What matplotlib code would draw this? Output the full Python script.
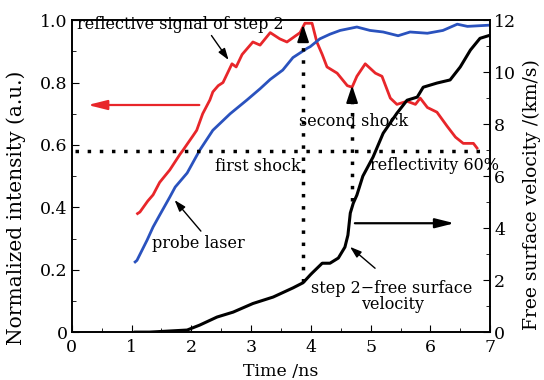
import matplotlib
matplotlib.use('Agg')
import matplotlib.pyplot as plt
import matplotlib as mpl
from matplotlib.ticker import MultipleLocator

mpl.rcParams['font.family'] = 'DejaVu Serif'
mpl.rcParams['font.size'] = 11.5
mpl.rcParams['axes.linewidth'] = 1.2

# reflective signal of step 2 (normalized)
t_red = [1.10, 1.14, 1.27, 1.36, 1.47, 1.64, 1.81, 1.86, 2.03, 2.09, 2.19, 2.31, 2.36, 2.45, 2.53,
         2.68, 2.75, 2.85, 3.03, 3.15, 3.32, 3.48, 3.60, 3.82, 3.90, 4.02, 4.10, 4.19, 4.27,
         4.44, 4.61, 4.69, 4.77, 4.91, 5.08, 5.19, 5.33, 5.44, 5.61, 5.75, 5.83, 5.95, 6.11,
         6.28, 6.42, 6.55, 6.72, 6.78]
i_red = [0.38, 0.385, 0.42, 0.44, 0.48, 0.52, 0.57, 0.583, 0.63, 0.647, 0.70, 0.744, 0.77, 0.79, 0.80,
         0.86, 0.85, 0.89, 0.93, 0.92, 0.96, 0.94, 0.93, 0.96, 0.99, 0.99, 0.93, 0.89, 0.85,
         0.83, 0.79, 0.785, 0.82, 0.86, 0.83, 0.82, 0.75, 0.73, 0.74, 0.73, 0.75, 0.72, 0.705,
         0.66, 0.625, 0.605, 0.605, 0.59]

# probe laser (normalized)
t_blue = [1.06, 1.09, 1.26, 1.36, 1.47, 1.64, 1.73, 1.93, 2.14, 2.36, 2.65, 2.93, 3.15, 3.32,
          3.53, 3.70, 3.94, 3.99, 4.15, 4.32, 4.49, 4.77, 4.99, 5.21, 5.46, 5.66, 5.95, 6.21,
          6.45, 6.62, 7.00]
i_blue = [0.225, 0.23, 0.295, 0.337, 0.375, 0.433, 0.465, 0.51, 0.583, 0.647, 0.70, 0.744, 0.78, 0.81,
          0.84, 0.88, 0.91, 0.915, 0.94, 0.955, 0.967, 0.978, 0.967, 0.962, 0.95, 0.962, 0.958, 0.967,
          0.987, 0.98, 0.984]

# step 2 free surface velocity (km/s)
t_vel = [1.06, 1.30, 1.93, 2.14, 2.43, 2.70, 3.03, 3.37, 3.70, 3.87, 3.99, 4.02, 4.19, 4.32,
         4.46, 4.57, 4.62, 4.66, 4.71, 4.77, 4.87, 5.04, 5.21, 5.44, 5.61, 5.78, 5.88, 6.11,
         6.33, 6.50, 6.67, 6.83, 6.97]
v_vel = [0.0, 0.0, 0.08, 0.27, 0.58, 0.77, 1.10, 1.35, 1.70, 1.90, 2.20, 2.27, 2.65, 2.65,
         2.85, 3.27, 3.73, 4.58, 4.96, 5.27, 6.0, 6.73, 7.65, 8.42, 8.92, 9.04, 9.42, 9.58,
         9.70, 10.2, 10.85, 11.3, 11.4]

fig = plt.figure(figsize=(5.44, 3.8), dpi=100)
ax = fig.add_axes([0.132, 0.126, 0.769, 0.821])
ax2 = ax.twinx()

ax.plot(t_red, i_red, color='#e8262a', lw=2.0)
ax.plot(t_blue, i_blue, color='#2a52be', lw=2.0)
ax2.plot(t_vel, v_vel, color='k', lw=2.2)

# dotted guide lines
dots = (0, (1, 2.5))
ax.plot([0.05, 6.85], [0.58, 0.58], color='k', lw=2.5, ls=dots)
ax.plot([3.87, 3.87], [0.16, 0.93], color='k', lw=2.5, ls=dots)
ax.plot([4.69, 4.69], [0.42, 0.76], color='k', lw=2.5, ls=dots)
head = dict(arrowstyle='-|>,head_width=0.3,head_length=0.9', color='k', lw=1.5)
ax.annotate('', xy=(3.87, 0.995), xytext=(3.87, 0.93), arrowprops=head)
ax.annotate('', xy=(4.69, 0.80), xytext=(4.69, 0.75), arrowprops=head)

# axis arrows
ax.annotate('', xy=(0.22, 0.728), xytext=(2.18, 0.728),
            arrowprops=dict(arrowstyle='-|>,head_width=0.25,head_length=1.0', color='#e8262a', lw=1.6))
ax.annotate('', xy=(6.45, 0.349), xytext=(4.69, 0.349),
            arrowprops=dict(arrowstyle='-|>,head_width=0.25,head_length=1.0', color='k', lw=1.6))

# labels with pointers
thin = dict(arrowstyle='-|>,head_width=0.2,head_length=0.6', color='k', lw=1.0)
ax.text(0.08, 0.985, 'reflective signal of step 2', ha='left', va='center')
ax.annotate('', xy=(2.65, 0.865), xytext=(2.31, 0.958), arrowprops=thin)
ax.text(2.12, 0.285, 'probe laser', ha='center', va='center')
ax.annotate('', xy=(1.69, 0.43), xytext=(2.19, 0.317), arrowprops=thin)
ax.text(5.36, 0.115, 'step 2\u2212free surface\nvelocity', ha='center', va='center', linespacing=0.95)
ax.annotate('', xy=(4.62, 0.279), xytext=(5.11, 0.199), arrowprops=thin)
ax.text(4.72, 0.675, 'second shock', ha='center', va='center')
ax.text(3.12, 0.53, 'first shock', ha='center', va='center')
ax.text(4.99, 0.535, 'reflectivity 60%', ha='left', va='center', clip_on=False)

ax.set_xlim(0, 7)
ax.set_ylim(0, 1.0)
ax2.set_ylim(0, 12)
ax.xaxis.set_major_locator(MultipleLocator(1))
ax.xaxis.set_minor_locator(MultipleLocator(0.5))
ax.yaxis.set_major_locator(MultipleLocator(0.2))
ax.yaxis.set_minor_locator(MultipleLocator(0.1))
ax2.yaxis.set_major_locator(MultipleLocator(2))
ax2.yaxis.set_minor_locator(MultipleLocator(1))
ax.yaxis.set_major_formatter(mpl.ticker.FuncFormatter(lambda v, p: '0' if v == 0 else f'{v:.1f}'))
ax.tick_params(which='both', direction='in', top=False, right=False, labelsize=12.5, pad=3)
ax.tick_params(axis='x', pad=5)
ax.tick_params(which='major', length=5)
ax.tick_params(which='minor', length=3)
ax2.tick_params(which='both', direction='in', labelsize=12.5, pad=3)
ax2.tick_params(which='major', length=5)
ax2.tick_params(which='minor', length=3)

ax.set_xlabel('Time /ns', fontsize=12.5)
ax.set_ylabel('Normalized intensity (a.u.)', fontsize=14.5)
ax2.set_ylabel('Free surface velocity /(km/s)', fontsize=13.5)
ax.xaxis.set_label_coords(0.5, -0.1)
ax.yaxis.set_label_coords(-0.11, 0.40)
ax2.yaxis.set_label_coords(1.077, 0.44)

fig.savefig('out.png', dpi=100)
